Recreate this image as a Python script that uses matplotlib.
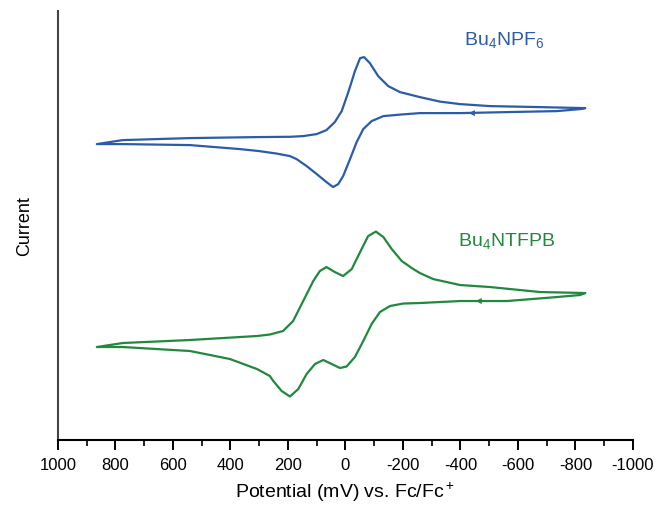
import matplotlib.pyplot as plt
from matplotlib.ticker import MultipleLocator

plt.rcParams["font.family"] = ["Liberation Sans", "DejaVu Sans"]
plt.rcParams["axes.unicode_minus"] = False
plt.rcParams["mathtext.fontset"] = "custom"
plt.rcParams["mathtext.rm"] = "Liberation Sans"

BLUE = "#2c5ca8"
GREEN = "#22883e"

# Bu4NPF6: scan from right vertex leftwards (lower branch), then back (upper branch)
npf6_lower_E = [-834, -816, -736, -562, -399, -259, -190, -132, -91, -62, -39, -16, 8,
                25, 43, 66, 100, 135, 170, 193, 239, 300, 367, 541, 775, 865]
npf6_lower_I = [33.2, 33.1, 32.9, 32.8, 32.7, 32.7, 32.55, 32.4, 31.9, 31.1, 29.8, 28.1, 26.4,
                25.6, 25.3, 25.8, 26.6, 27.4, 28.1, 28.4, 28.65, 28.9, 29.1, 29.5, 29.6, 29.6]
npf6_upper_E = [865, 775, 541, 308, 193, 147, 100, 66, 37, 13, -10, -33, -51, -65, -85,
                -114, -149, -190, -259, -329, -399, -503, -677, -834]
npf6_upper_I = [29.6, 30.0, 30.2, 30.3, 30.33, 30.4, 30.6, 31.0, 31.8, 32.9, 34.8, 36.9, 38.2, 38.3, 37.7,
                36.4, 35.4, 34.8, 34.3, 33.85, 33.6, 33.4, 33.3, 33.2]

# Bu4NTFPB
tfpb_lower_E = [-834, -816, -736, -562, -399, -259, -201, -155, -120, -91, -62, -33, -4,
                19, 48, 77, 106, 135, 164, 193, 222, 251, 263, 308, 402, 471, 541, 775, 865]
tfpb_lower_I = [14.7, 14.5, 14.3, 13.9, 13.9, 13.7, 13.65, 13.4, 12.8, 11.6, 9.9, 8.3, 7.35,
                7.2, 7.6, 8.0, 7.6, 6.6, 5.1, 4.35, 4.9, 5.9, 6.4, 7.1, 8.1, 8.5, 8.9, 9.3, 9.3]
tfpb_upper_E = [865, 775, 541, 308, 263, 217, 182, 147, 112, 89, 66, 37, 8, -22, -51,
                -79, -106, -132, -161, -196, -236, -259, -305, -399, -503, -677, -834]
tfpb_upper_I = [9.3, 9.7, 10.0, 10.4, 10.55, 10.9, 11.9, 13.9, 15.9, 16.9, 17.3, 16.8, 16.4, 17.1, 18.8,
                20.4, 20.85, 20.3, 19.1, 17.9, 17.1, 16.7, 16.1, 15.5, 15.3, 14.8, 14.7]

# scan-direction arrows on the return branch
arrow_E = [-444, -468]
arrow_I = [32.7, 13.9]

fig = plt.figure(figsize=(6.54, 5.06), dpi=100)
ax = fig.add_axes([0.0887, 0.1285, 0.879, 0.8475])

for lo_E, lo_I, up_E, up_I, color in [
    (npf6_lower_E, npf6_lower_I, npf6_upper_E, npf6_upper_I, BLUE),
    (tfpb_lower_E, tfpb_lower_I, tfpb_upper_E, tfpb_upper_I, GREEN),
]:
    ax.plot(lo_E + up_E, lo_I + up_I, color=color, linewidth=1.6,
            solid_joinstyle="round", solid_capstyle="round")

for e, i, color in zip(arrow_E, arrow_I, [BLUE, GREEN]):
    ax.annotate("", xy=(e + 15, i), xytext=(e - 15, i),
                arrowprops=dict(arrowstyle="-|>", color=color, lw=0,
                                mutation_scale=11, shrinkA=0, shrinkB=0))

ax.text(-551, 39.5, "Bu$_4$NPF$_6$", color=BLUE, fontsize=14, ha="center", va="baseline")
ax.text(-562, 19.4, "Bu$_4$NTFPB", color=GREEN, fontsize=14, ha="center", va="baseline")

ax.set_xlim(1000, -1000)
ax.set_ylim(0, 42.9)
ax.xaxis.set_major_locator(MultipleLocator(200))
ax.xaxis.set_minor_locator(MultipleLocator(100))
ax.set_yticks([])
ax.tick_params(axis="x", which="major", direction="out", length=7, width=1.4,
               labelsize=12, pad=5)
ax.tick_params(axis="x", which="minor", direction="out", length=4, width=1.2)
for side in ["top", "right"]:
    ax.spines[side].set_visible(False)
ax.spines["bottom"].set_linewidth(1.5)
ax.spines["left"].set_linewidth(1.5)
ax.spines["left"].set_color("#444444")

ax.set_xlabel("Potential (mV) vs. Fc/Fc$^+$", fontsize=14, labelpad=5)
ax.set_ylabel("Current", fontsize=13, labelpad=18)

fig.savefig("out.png", dpi=100)
